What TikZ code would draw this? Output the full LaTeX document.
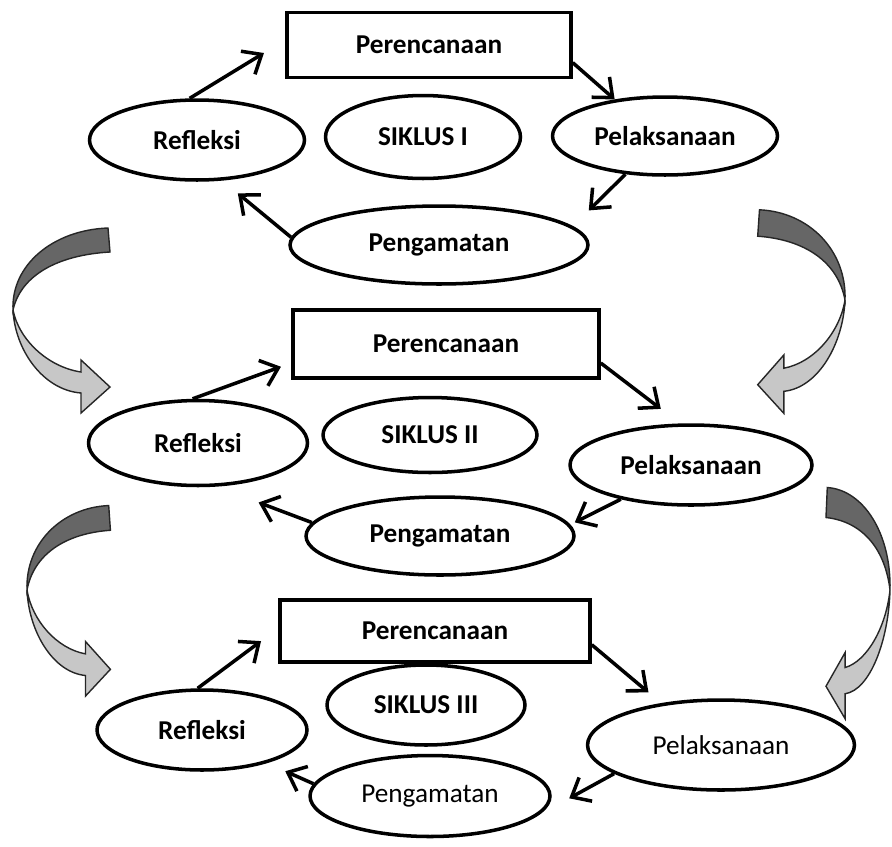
\documentclass[tikz,border=0pt]{standalone}
\usepackage{fontspec}
\setmainfont{Carlito}
\usetikzlibrary{shapes.geometric,arrows.meta}
\tikzset{basic/.style={draw,line width=2pt,inner sep=0pt,
                       font=\fontsize{15.5}{18}\selectfont\bfseries}}
\tikzset{plan/.style={basic,rectangle}}
\tikzset{phase/.style={basic,ellipse}}
\tikzset{light/.style={font=\fontsize{15.5}{18}\selectfont}}
\tikzset{wh/.style 2 args={minimum width=#1cm,minimum height=#2cm}}
\tikzset{link/.style={->,line width=2pt}}

% curved block arrow between two cycles: #1 bend point, #2 xscale, #3 yscale
\newcommand{\bendarrow}[3]{%
  \begin{scope}[shift={#1},xscale=#2,yscale=#3,line width=0.8pt,draw=black!85]
    \filldraw[fill=black!60] (0,0) .. controls (-2,-45) and (40,-80) .. (95,-82)
      -- (97,-58) .. controls (45,-55) and (8,-35) .. (0,0) -- cycle;
    \filldraw[fill=black!22] (0,0) .. controls (2,40) and (30,80) .. (68,83)
      -- (68,103) -- (97,77) -- (68,50) -- (68,62)
      .. controls (35,57) and (6,30) .. (0,0) -- cycle;
  \end{scope}}

\begin{document}
\begin{tikzpicture}[x=0.02cm,y=-0.02cm,>={Straight Barb[length=3.2mm,width=5.4mm]}]
    \useasboundingbox (0,0) rectangle (892,846);

    % siklus I
    \node[plan,wh={5.68}{1.30}] (p1) at (429,45) {Perencanaan};
    \node[phase,wh={4.30}{1.60}] (r1) at (197,140) {Refleksi};
    \node[phase,wh={3.90}{1.66}] (s1) at (423,137) {SIKLUS I};
    \node[phase,wh={4.50}{1.56}] (l1) at (665,136) {Pelaksanaan};
    \node[phase,wh={5.96}{1.56}] (g1) at (439,245) {Pengamatan};

    \draw[link,shorten >=0.5cm] (r1.100) -- (p1.178);
    \draw[link] (p1.-7) -- (l1.144);
    \draw[link,shorten >=0.45cm] (l1.224) -- (g1.8);
    \draw[link,shorten >=0.4cm] (g1.177) -- (r1.-58);

    % siklus II
    \node[plan,wh={6.12}{1.36}] (p2) at (446,344) {Perencanaan};
    \node[phase,wh={4.38}{1.70}] (r2) at (198,443) {Refleksi};
    \node[phase,wh={4.28}{1.50}] (s2) at (430,435) {SIKLUS II};
    \node[phase,wh={4.84}{1.60}] (l2) at (691,465) {Pelaksanaan};
    \node[phase,wh={5.36}{1.56}] (g2) at (440,536) {Pengamatan};

    \draw[link,shorten >=0.22cm] (r2.97) -- (p2.187);
    \draw[link,shorten >=0.48cm] (p2.-7) -- (l2.105);
    \draw[link,shorten >=0.1cm] (l2.206) -- (g2.5);
    \draw[link,shorten >=0.9cm] (g2.174) -- (r2.-67);

    % siklus III
    \node[plan,wh={6.20}{1.24}] (p3) at (435,631) {Perencanaan};
    \node[phase,wh={4.20}{1.60}] (r3) at (202,730) {Refleksi};
    \node[phase,wh={3.96}{1.60}] (s3) at (426,705) {SIKLUS III};
    \node[phase,light,wh={5.34}{1.80}] (l3) at (721,745) {Pelaksanaan};
    \node[phase,light,wh={4.80}{1.62}] (g3) at (430,796) {Pengamatan};

    \draw[link,shorten >=0.43cm] (r3.96) -- (p3.179);
    \draw[link,shorten >=0.33cm] (p3.-5) -- (l3.145);
    \draw[link,shorten >=0.7cm] (l3.195) -- (g3.-10);
    \draw[link,shorten >=0.4cm] (g3.174) -- (r3.-27);

    % arrows between the cycles
    \bendarrow{(13,310)}{1}{1}
    \bendarrow{(27,590)}{0.86}{1.03}
    \bendarrow{(845,300)}{-0.9}{1.1}
    \bendarrow{(890,590)}{-0.66}{1.25}
\end{tikzpicture}
\end{document}
